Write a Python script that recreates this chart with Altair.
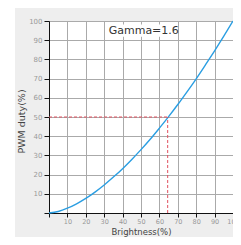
import altair as alt
import pandas as pd

# Data
brightness = [0, 5, 10, 15, 20, 25, 30, 35, 40, 45, 50, 55, 60, 65, 70, 75, 80, 85, 90, 95, 100]
duty = [0, 0.8, 2.5, 4.8, 7.6, 10.9, 14.6, 18.7, 23.1, 27.9, 33.0, 38.4, 44.2, 50.2, 56.5, 63.1, 69.9, 77.1, 84.5, 92.1, 100]
tick_values = [0, 10, 20, 30, 40, 50, 60, 70, 80, 90, 100]
marker_x = 64.5
marker_y = 50
title_text = "Gamma=1.6"

FONT = "DejaVu Sans"

curve_df = pd.DataFrame({"b": brightness, "d": duty})
hline_df = pd.DataFrame({"x": [0], "x2": [marker_x], "y": [marker_y]})
vline_df = pd.DataFrame({"x": [marker_x], "y": [0], "y2": [marker_y]})
label_df = pd.DataFrame({"x": [51.5], "y": [95], "t": [title_text]})
box_df = pd.DataFrame({"x": [30.5], "x2": [69], "y": [91.8], "y2": [98.2]})
one = pd.DataFrame({"a": [0]})

xscale = alt.Scale(domain=[0, 100], nice=False)
yscale = alt.Scale(domain=[0, 100], nice=False)

xaxis = alt.Axis(
    values=tick_values, labelExpr="datum.value == 0 ? '' : datum.label",
    labelOverlap=False, labelFlush=False, tickCount=11, tickSize=4,
    labelFontSize=6.5, labelPadding=1,
    title="Brightness(%)", titleBaseline="alphabetic", titleY=21, titleFontSize=8.5,
)
yaxis = alt.Axis(
    values=tick_values, labelExpr="datum.value == 0 ? '' : datum.label",
    labelOverlap=False, labelFlush=False, tickCount=11, tickSize=5,
    labelFontSize=7, labelPadding=2,
    title="PWM duty(%)", titleFontSize=9.5,
    titleX=-23, titleY=100, titleAngle=270, titleAlign="center", titleBaseline="bottom",
)

X = lambda f: alt.X(f, scale=xscale, axis=xaxis)
Y = lambda f: alt.Y(f, scale=yscale, axis=yaxis)

strip = alt.Chart(one).mark_rect(color="white", clip=False).encode(
    x=alt.value(-41), x2=alt.value(-34), y=alt.value(-13), y2=alt.value(230)
)

curve = alt.Chart(curve_df).mark_line(color="#2a9ee2", strokeWidth=1.4, interpolate="monotone").encode(
    x=X("b:Q"), y=Y("d:Q"),
)

box = alt.Chart(box_df).mark_rect(color="white").encode(
    x=X("x:Q"), x2="x2:Q", y=Y("y:Q"), y2="y2:Q",
)

hline = alt.Chart(hline_df).mark_rule(color="#e0505f", strokeDash=[3, 2], strokeWidth=1).encode(
    x=X("x:Q"), x2="x2:Q", y=Y("y:Q")
)
vline = alt.Chart(vline_df).mark_rule(color="#e0505f", strokeDash=[3, 2], strokeWidth=1).encode(
    x=X("x:Q"), y=Y("y:Q"), y2="y2:Q"
)

label = alt.Chart(label_df).mark_text(font=FONT, fontSize=11, color="#333333", baseline="middle").encode(
    x=X("x:Q"), y=Y("y:Q"), text="t:N"
)

chart = alt.layer(curve, strip, box, hline, vline, label).properties(
    width=184, height=192,
    autosize=alt.AutoSizeParams(type="none"),
    padding={"left": 41, "top": 13, "right": 0, "bottom": 24},
    background="#eeeeee",
).configure_view(fill="white", strokeWidth=0).configure_axis(
    grid=True, gridColor="#aaaaaa", gridWidth=1,
    domainColor="#111111", tickColor="#111111",
    labelColor="#999999", labelFont=FONT,
    titleFont=FONT, titleColor="#444444", titleFontWeight="normal",
)

chart.save("out.html", embed_options={"renderer": "svg", "actions": False})
